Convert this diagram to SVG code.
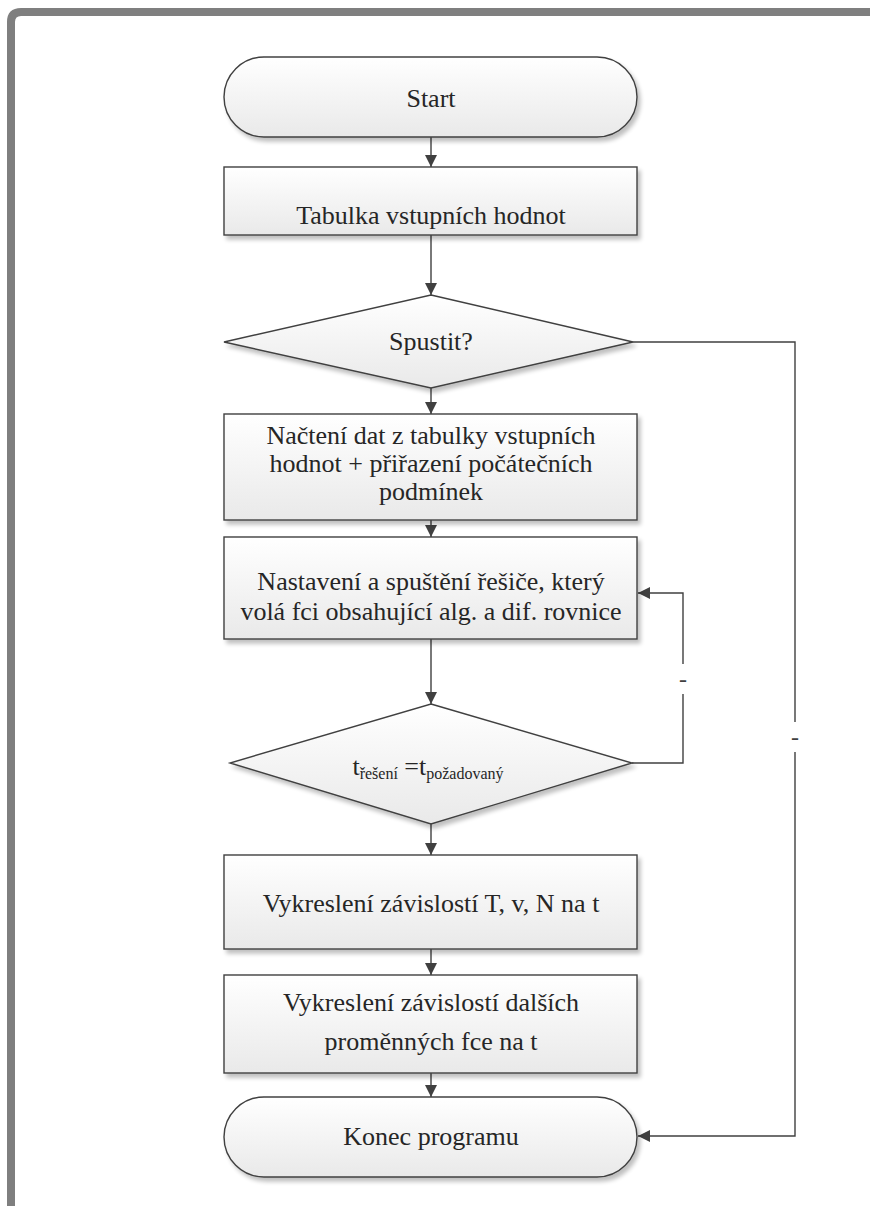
<svg xmlns="http://www.w3.org/2000/svg" width="870" height="1206" viewBox="0 0 870 1206">
<defs>
<linearGradient id="g" x1="0" y1="0" x2="0" y2="1">
<stop offset="0" stop-color="#ffffff"/>
<stop offset="1" stop-color="#e9e9e9"/>
</linearGradient>
<filter id="sh" x="-10%" y="-10%" width="125%" height="135%">
<feGaussianBlur in="SourceAlpha" stdDeviation="2"/>
<feOffset dx="3" dy="4" result="b"/>
<feComponentTransfer><feFuncA type="linear" slope="0.25"/></feComponentTransfer>
<feMerge><feMergeNode/><feMergeNode in="SourceGraphic"/></feMerge>
</filter>
<marker id="ah" viewBox="0 0 12 12" refX="12" refY="6" markerWidth="12" markerHeight="12" markerUnits="userSpaceOnUse" orient="auto">
<path d="M0,0 L12,6 L0,12 Z" fill="#404040"/>
</marker>
<style>
.shape{fill:url(#g);stroke:#404040;stroke-width:1.4;filter:url(#sh)}
.t{font-size:26px;fill:#262626;text-anchor:middle}
.c{fill:none;stroke:#404040;stroke-width:1.4}
.lbl{font-size:24px;fill:#404040;text-anchor:middle}
</style>
</defs>
<rect width="870" height="1206" fill="#ffffff"/>
<path d="M11,1220 L11,22 Q11,12 21,12 L880,12" fill="none" stroke="#7f7f7f" stroke-width="8"/>
<g font-family="Liberation Serif, Times New Roman, serif">
<g id="connectors">
<line class="c" x1="431" y1="137" x2="431" y2="167" marker-end="url(#ah)"/>
<line class="c" x1="431" y1="235" x2="431" y2="295" marker-end="url(#ah)"/>
<line class="c" x1="431" y1="388" x2="431" y2="414" marker-end="url(#ah)"/>
<line class="c" x1="431" y1="520" x2="431" y2="537" marker-end="url(#ah)"/>
<line class="c" x1="431" y1="639" x2="431" y2="704" marker-end="url(#ah)"/>
<line class="c" x1="431" y1="824" x2="431" y2="855" marker-end="url(#ah)"/>
<line class="c" x1="431" y1="949" x2="431" y2="975" marker-end="url(#ah)"/>
<line class="c" x1="431" y1="1073" x2="431" y2="1097" marker-end="url(#ah)"/>
<polyline class="c" points="632,763 683,763 683,593 638,593" marker-end="url(#ah)"/>
<rect x="677" y="664" width="12" height="30" fill="#ffffff"/>
<text class="lbl" x="683" y="687">-</text>
<polyline class="c" points="633,342 795,342 795,1136 638,1136" marker-end="url(#ah)"/>
<rect x="789" y="722" width="12" height="30" fill="#ffffff"/>
<text class="lbl" x="795" y="745">-</text>
</g>

<g id="start">
<rect class="shape" x="224" y="57" width="413" height="80" rx="40" ry="40"/>
<text class="t" x="431" y="107">Start</text>
</g>
<g id="tabulka">
<rect class="shape" x="224" y="167" width="413" height="68"/>
<text class="t" x="431" y="224">Tabulka vstupních hodnot</text>
</g>
<g id="spustit">
<polygon class="shape" points="431,295 633,342 431,388 224,342"/>
<text class="t" x="431" y="350">Spustit?</text>
</g>
<g id="nacteni">
<rect class="shape" x="224" y="414" width="413" height="106"/>
<text class="t" x="431" y="444">Načtení dat z tabulky vstupních</text>
<text class="t" x="431" y="472">hodnot + přiřazení počátečních</text>
<text class="t" x="431" y="500">podmínek</text>
</g>
<g id="nastaveni">
<rect class="shape" x="224" y="537" width="413" height="102"/>
<text class="t" x="431" y="590">Nastavení a spuštění řešiče, který</text>
<text class="t" x="431" y="620">volá fci obsahující alg. a dif. rovnice</text>
</g>
<g id="podminka">
<polygon class="shape" points="431,704 632,763 431,824 230,763"/>
<text class="t" x="428" y="775">t<tspan font-size="16" dy="4">řešení</tspan><tspan dy="-4"> =t</tspan><tspan font-size="16" dy="4">požadovaný</tspan></text>
</g>
<g id="vykresleni1">
<rect class="shape" x="224" y="855" width="413" height="94"/>
<text class="t" x="431" y="912">Vykreslení závislostí T, v, N na t</text>
</g>
<g id="vykresleni2">
<rect class="shape" x="224" y="975" width="413" height="98"/>
<text class="t" x="431" y="1011">Vykreslení závislostí dalších</text>
<text class="t" x="431" y="1050">proměnných fce na t</text>
</g>
<g id="konec">
<rect class="shape" x="224" y="1097" width="413" height="80" rx="40" ry="40"/>
<text class="t" x="431" y="1145">Konec programu</text>
</g>
</g>
</svg>
